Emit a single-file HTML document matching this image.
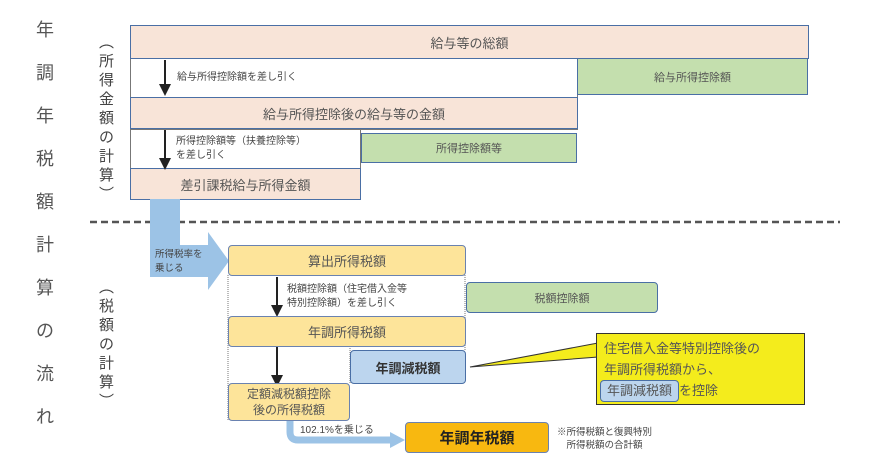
<!DOCTYPE html>
<html><head><meta charset="utf-8"><style>
body{margin:0;background:#fff;font-family:"Liberation Sans","Noto Sans CJK JP",sans-serif;color:#555}
.r{position:fixed;box-sizing:border-box;display:flex;align-items:center;justify-content:center;text-align:center}
.p{background:#f8e4d8;border:1.5px solid #4a6fa5;font-size:13px}
.g{background:#c4dfae;border:1.5px solid #4a6fa5;font-size:11px}
.y{background:#fde49a;border:1.5px solid #6a82b0;border-radius:4px;font-size:13px}
.t{position:fixed;font-size:10px;line-height:14px;color:#444}
.v{position:fixed;font-size:18px;line-height:43px;width:20px;color:#555}
</style></head><body>
<div class="v" style="left:36px;top:9px">年<br>調<br>年<br>税<br>額<br>計<br>算<br>の<br>流<br>れ</div>
<div class="t" style="left:99px;top:33px;font-size:15px;line-height:19px;width:16px">︵<br>所<br>得<br>金<br>額<br>の<br>計<br>算<br>︶</div>
<div class="t" style="left:99px;top:278px;font-size:15px;line-height:19px;width:16px">︵<br>税<br>額<br>の<br>計<br>算<br>︶</div>
<div class="r" style="left:130px;top:58px;width:448px;height:72px;border:1px solid #777"></div>
<div class="r" style="left:130px;top:128px;width:231px;height:72px;border:1px solid #777"></div>
<div class="r p" style="left:130px;top:25px;width:679px;height:34px">給与等の総額</div>
<div class="r g" style="left:577px;top:58px;width:231px;height:37px">給与所得控除額</div>
<div class="r p" style="left:130px;top:97px;width:448px;height:32px">給与所得控除後の給与等の金額</div>
<div class="r g" style="left:361px;top:133px;width:216px;height:30px">所得控除額等</div>
<div class="r p" style="left:130px;top:168px;width:231px;height:32px">差引課税給与所得金額</div>
<svg style="position:fixed;left:0;top:0" width="870" height="461">
<defs><marker id="a" markerWidth="6" markerHeight="6" refX="3" refY="3" orient="auto"><path d="M0,0L6,3L0,6z" fill="#222"/></marker></defs>
<line x1="165" y1="60" x2="165" y2="90" stroke="#222" stroke-width="2" marker-end="url(#a)"/>
<line x1="165" y1="130" x2="165" y2="164" stroke="#222" stroke-width="2" marker-end="url(#a)"/>
<line x1="90" y1="222" x2="840" y2="222" stroke="#555" stroke-width="2.5" stroke-dasharray="7,4"/>
<path d="M150,199H180V245H208V232L229,261L208,290V277H150Z" fill="#9cc3e6"/>
<line x1="228" y1="275" x2="228" y2="420" stroke="#777" stroke-dasharray="1,1"/>
<line x1="465" y1="275" x2="465" y2="350" stroke="#777" stroke-dasharray="1,1"/>
<line x1="350" y1="346" x2="350" y2="383" stroke="#777" stroke-dasharray="1,1"/>
<line x1="277" y1="277" x2="277" y2="311" stroke="#222" stroke-width="2" marker-end="url(#a)"/>
<line x1="277" y1="347" x2="277" y2="381" stroke="#222" stroke-width="2" marker-end="url(#a)"/>
<path d="M290,420V432Q290,440 298,440H392" fill="none" stroke="#9cc3e6" stroke-width="7"/>
<path d="M390,432L405,440L390,448z" fill="#9cc3e6"/>
<path d="M470,367L598,343V357Z" fill="#f4ec1c" stroke="#333" stroke-width="1"/>
</svg>
<div class="t" style="left:177px;top:71px">給与所得控除額を差し引く</div>
<div class="t" style="left:176px;top:135px">所得控除額等（扶養控除等）<br>を差し引く</div>
<div class="t" style="left:155px;top:248px;font-size:9.5px">所得税率を<br>乗じる</div>
<div class="r y" style="left:228px;top:245px;width:238px;height:31px">算出所得税額</div>
<div class="t" style="left:287px;top:283px">税額控除額（住宅借入金等<br>特別控除額）を差し引く</div>
<div class="r g" style="left:466px;top:282px;width:192px;height:31px;border-radius:4px">税額控除額</div>
<div class="r y" style="left:228px;top:316px;width:238px;height:31px">年調所得税額</div>
<div class="r" style="left:350px;top:350px;width:116px;height:34px;background:#bcd5ee;border:1.5px solid #4a6fa5;border-radius:4px;font-size:13px;font-weight:bold;color:#333">年調減税額</div>
<div class="r y" style="left:228px;top:383px;width:122px;height:38px;font-size:12px;line-height:16px">定額減税額控除<br>後の所得税額</div>
<div class="t" style="left:300px;top:424px">102.1%を乗じる</div>
<div class="r" style="left:405px;top:422px;width:144px;height:31px;background:#f8b810;border:1.5px solid #6a82b0;border-radius:4px;font-size:15px;font-weight:bold;color:#222">年調年税額</div>
<div class="t" style="left:557px;top:426px;font-size:9.5px;line-height:13px;text-align:center">※所得税額と復興特別<br>所得税額の合計額</div>
<div class="r" style="left:596px;top:333px;width:209px;height:72px;background:#f4ec1c;border:1.5px solid #333;display:block;text-align:left;padding:4px 0 0 7px;font-size:13px;line-height:21px;color:#555">住宅借入金等特別控除後の<br>年調所得税額から、<br><span style="display:inline-block;background:#bcd5ee;border:1.5px solid #4a6fa5;border-radius:4px;padding:0 6px;line-height:20px;margin-left:-4px">年調減税額</span>を控除</div>
</body></html>
